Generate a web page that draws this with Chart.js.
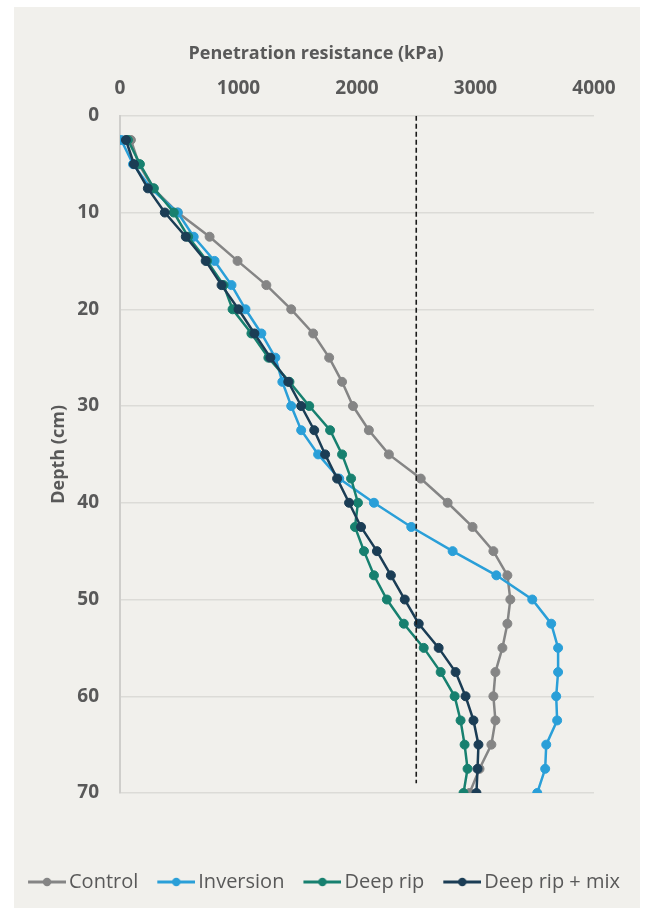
<!DOCTYPE html>
<html>
<head>
<meta charset="utf-8">
<script src="https://cdn.jsdelivr.net/npm/chart.js@4"></script>
<style>
    body { margin: 0; background: #ffffff; }
    #panel { position: absolute; left: 14px; top: 7px; width: 626px; height: 901px; background: #f1f0ec; }
    #wrap { position: absolute; left: 0; top: 0; width: 646px; height: 908px; }
</style>
</head>
<body>
<div id="panel"></div>
<div id="wrap"><canvas id="chart" width="646" height="908"></canvas></div>
<script>
// depth of each reading (cm)
const depths = [2.5, 5, 7.5, 10, 12.5, 15, 17.5, 20, 22.5, 25, 27.5, 30, 32.5, 35,
                37.5, 40, 42.5, 45, 47.5, 50, 52.5, 55, 57.5, 60, 62.5, 65, 67.5, 70];

// penetration resistance (kPa)
const control   = [92, 160, 280, 487, 756, 992, 1235, 1445, 1630, 1765, 1874, 1966, 2100, 2269,
                   2538, 2765, 2975, 3151, 3269, 3294, 3269, 3227, 3168, 3151, 3168, 3134, 3034, 2950];
const inversion = [10, 110, 260, 487, 622, 798, 941, 1059, 1193, 1311, 1370, 1445, 1529, 1672,
                   1850, 2143, 2458, 2807, 3176, 3479, 3639, 3697, 3697, 3681, 3689, 3597, 3588, 3521];
const deepRip   = [67, 168, 286, 454, 575, 735, 874, 950, 1109, 1252, 1430, 1597, 1773, 1874,
                   1950, 2008, 1983, 2059, 2143, 2252, 2395, 2563, 2706, 2824, 2874, 2908, 2933, 2899];
const deepRipMix = [50, 118, 235, 378, 555, 723, 857, 1000, 1134, 1269, 1420, 1529, 1639, 1731,
                   1832, 1933, 2034, 2168, 2286, 2403, 2521, 2689, 2832, 2916, 2983, 3025, 3017, 3008];

const seriesNames = ['Control', 'Inversion', 'Deep rip', 'Deep rip + mix'];
const seriesColors = ['#858585', '#2a9fd8', '#17806f', '#1b3d55'];

// critical value line
const thresholdKpa = 2500;
const thresholdDepths = [0, 69];

// axis ranges
const xMin = 0, xMax = 4000, xStep = 1000;
const yMin = 0, yMax = 70, yStep = 10;

const textColor = '#595959';
Chart.defaults.font.family = "'Open Sans', sans-serif";
Chart.defaults.color = textColor;

function toPoints(values) {
    return values.map((v, i) => ({ x: v, y: depths[i] }));
}

// little line-with-dot picture for the legend
function legendMarker(color) {
    const c = document.createElement('canvas');
    c.width = 61;
    c.height = 12;
    const g = c.getContext('2d');
    g.strokeStyle = color;
    g.lineWidth = 3;
    g.beginPath();
    g.moveTo(23, 6);
    g.lineTo(61, 6);
    g.stroke();
    g.fillStyle = color;
    g.beginPath();
    g.arc(42, 6, 4.2, 0, Math.PI * 2);
    g.fill();
    return c;
}

const seriesValues = [control, inversion, deepRip, deepRipMix];

const datasets = seriesValues.map((vals, i) => ({
    label: seriesNames[i],
    data: toPoints(vals),
    showLine: true,
    borderColor: seriesColors[i],
    backgroundColor: seriesColors[i],
    borderWidth: 2.5,
    pointRadius: 4.5,
    pointBorderWidth: 1,
    pointBackgroundColor: seriesColors[i],
    pointBorderColor: seriesColors[i],
    order: 4 - i
}));

datasets.push({
    label: 'threshold',
    data: thresholdDepths.map(d => ({ x: thresholdKpa, y: d })),
    showLine: true,
    borderColor: '#1a1a1a',
    borderWidth: 1.6,
    borderDash: [5, 3],
    pointRadius: 0,
    order: 0
});

new Chart(document.getElementById('chart'), {
    type: 'scatter',
    data: { datasets: datasets },
    options: {
        responsive: false,
        animation: false,
        devicePixelRatio: 1,
        layout: { padding: { left: 0, right: 14, top: 0, bottom: 6 } },
        plugins: {
            tooltip: { enabled: false },
            title: {
                display: true,
                text: 'Penetration resistance (kPa)',
                color: textColor,
                font: { size: 18, weight: 'bold' },
                padding: { top: 43, bottom: 0 }
            },
            legend: {
                position: 'bottom',
                title: { display: true, text: '', font: { size: 12 }, padding: { top: 61.6, bottom: 0 } },
                labels: {
                    usePointStyle: true,
                    pointStyleWidth: 47,
                    padding: 3,
                    color: textColor,
                    font: { size: 20 },
                    generateLabels: () => seriesNames.map((name, i) => ({
                        text: name,
                        pointStyle: legendMarker(seriesColors[i]),
                        fillStyle: seriesColors[i],
                        strokeStyle: seriesColors[i],
                        fontColor: textColor,
                        lineWidth: 0,
                        hidden: false,
                        datasetIndex: i
                    }))
                }
            }
        },
        scales: {
            x: {
                type: 'linear',
                position: 'top',
                min: xMin,
                max: xMax,
                ticks: {
                    stepSize: xStep,
                    padding: 15.6,
                    font: { size: 19, weight: 'bold' },
                    color: textColor,
                    callback: (v) => String(v)
                },
                grid: { display: false, drawTicks: false },
                border: { display: false },
                afterFit: (s) => { s.height = 51.2; }
            },
            y: {
                type: 'linear',
                reverse: true,
                min: yMin,
                max: yMax,
                ticks: {
                    stepSize: yStep,
                    padding: 21,
                    font: { size: 19, weight: 'bold' },
                    color: textColor,
                    callback: (v) => String(v)
                },
                grid: { color: '#dcdbd7', lineWidth: 1.5, drawTicks: false },
                border: { color: '#cfcecb', width: 2 },
                title: {
                    display: true,
                    text: 'Depth (cm)',
                    color: textColor,
                    font: { size: 18, weight: 'bold' },
                    padding: { top: 48.2, bottom: 0 }
                },
                afterFit: (s) => { s.width = 120; }
            },
            // empty strip on the right so the plot ends where the original does
            spacer: {
                type: 'linear',
                position: 'right',
                display: true,
                ticks: { display: false },
                grid: { display: false, drawTicks: false },
                border: { display: false },
                afterFit: (s) => { s.width = 38; }
            }
        }
    }
});
</script>
</body>
</html>
